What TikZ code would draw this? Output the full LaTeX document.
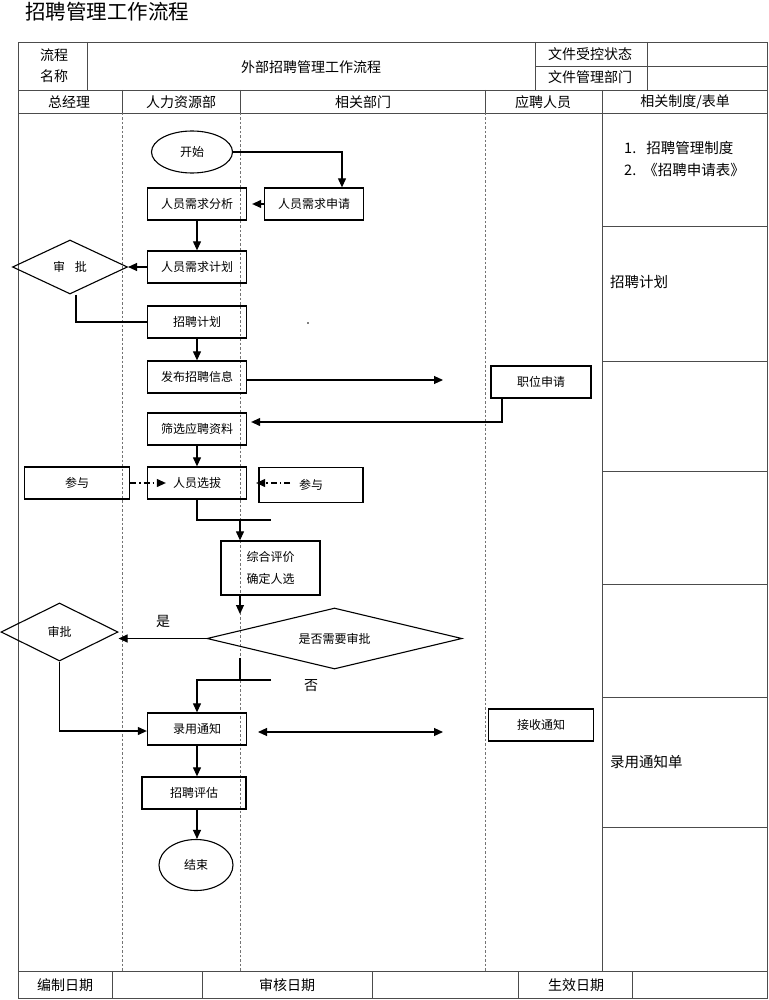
\documentclass[tikz,border=0pt]{standalone}
\usepackage{fontspec}
\newfontfamily\cjk{Noto Sans CJK SC}
\usetikzlibrary{shapes.geometric,arrows.meta}
\begin{document}
\begin{tikzpicture}[x=1pt,y=-1pt,
  font=\cjk\fontsize{12}{14}\selectfont,
  grid/.style={draw=black!70,line width=0.8pt},
  lane/.style={draw=black!55,line width=0.8pt,dash pattern=on 2.5pt off 2pt},
  flow/.style={line width=1.1pt},
  arr/.style={flow,-{Triangle[length=9pt,width=8pt]}},
  arrboth/.style={flow,{Triangle[length=9pt,width=8pt]}-{Triangle[length=9pt,width=8pt]}},
  ddarr/.style={flow,dash pattern=on 6pt off 3pt on 1.5pt off 3pt,-{Triangle[length=9pt,width=8pt]}},
  box/.style={draw,line width=1.3pt,inner sep=0pt,minimum width=99pt,minimum height=32pt},
  oval/.style={draw,ellipse,line width=1.1pt,inner sep=0pt},
  dia/.style={draw,diamond,line width=1.1pt,inner sep=0pt,aspect=2},
  hdr/.style={font=\cjk\fontsize{14}{17}\selectfont,inner sep=0pt},
  side/.style={font=\cjk\fontsize{14.5}{17}\selectfont,inner sep=0pt,anchor=west}
]
\useasboundingbox (0,0) rectangle (768,1000);

% title
\node[anchor=west,inner sep=0pt,font=\cjk\fontsize{20.5}{24}\selectfont] (title) at (25,12) {招聘管理工作流程};

% table frame
\draw[grid] (18,42) rectangle (767,998);
\draw[grid] (18,90) -- (767,90);
\draw[grid] (18,113) -- (767,113);
\draw[grid] (18,971) -- (767,971);
\draw[grid] (87,42) -- (87,90);
\draw[grid] (535,42) -- (535,90);
\draw[grid] (647,42) -- (647,90);
\draw[grid] (535,66) -- (767,66);
\foreach \x in {122,240,485,602} \draw[grid] (\x,90) -- (\x,113);
\foreach \x in {122,240,485} \draw[lane] (\x,113) -- (\x,971);
\draw[grid] (602,113) -- (602,971);
\foreach \y in {226,361,471,584,697,827} \draw[grid] (602,\y) -- (767,\y);
\foreach \x in {112,202,372,518,632} \draw[grid] (\x,971) -- (\x,998);

% header texts
\node[hdr,align=center] (lcname) at (54,66) {流程\\[4pt]名称};
\node[hdr] (pname) at (311,67) {外部招聘管理工作流程};
\node[hdr] (ctrl) at (590,54) {文件受控状态};
\node[hdr] (dept) at (590,77) {文件管理部门};
\node[hdr] (h1) at (69,102) {总经理};
\node[hdr] (h2) at (181,102) {人力资源部};
\node[hdr] (h3) at (363,102) {相关部门};
\node[hdr] (h4) at (543,102) {应聘人员};
\node[hdr] (h5) at (685,102) {相关制度/表单};

% footer texts
\node[hdr] (f1) at (65,985) {编制日期};
\node[hdr] (f2) at (287,985) {审核日期};
\node[hdr] (f3) at (576,985) {生效日期};

% side column texts
\node[side] (s1) at (624,148) {1.\hspace{10pt}招聘管理制度};
\node[side] (s2) at (624,170) {2.\hspace{7pt}《招聘申请表》};
\node[side] (s3) at (610,282) {招聘计划};
\node[side] (s4) at (610,762) {录用通知单};

% flow nodes
\node[oval,minimum width=81pt,minimum height=42pt] (start) at (192,152) {开始};
\node[box] (sq) at (314,204) {人员需求申请};
\node[box] (fx) at (197,204) {人员需求分析};
\node[box] (jh) at (197,267) {人员需求计划};
\node[dia,minimum width=115pt,minimum height=54pt] (sp1) at (70,267) {审\hspace{10pt}批};
\node[box] (zpjh) at (197,322) {招聘计划};
\node[circle,fill,inner sep=0.6pt] (dot) at (308,323) {};
\node[box] (fbxq) at (197,377) {发布招聘信息};
\node[box,minimum width=100pt] (zwsq) at (541,382) {职位申请};
\node[box] (sx) at (197,429) {筛选应聘资料};
\node[box] (xb) at (197,483) {人员选拔};
\node[box,minimum width=105pt] (cy1) at (77,483) {参与};
\node[box,minimum width=104pt,minimum height=35pt] (cy2) at (311,485) {参与};
\node[box,minimum width=99pt,minimum height=54pt,align=center,font=\cjk\fontsize{12}{22}\selectfont] (zh) at (270.5,568) {综合评价\\确定人选};
\node[dia,minimum width=255pt,minimum height=61pt] (sf) at (334.5,638.5) {是否需要审批};
\node[dia,minimum width=117pt,minimum height=58pt] (sp2) at (59.5,632) {审批};
\node[inner sep=0pt,font=\cjk\fontsize{14}{16}\selectfont] (yes) at (163,621) {是};
\node[inner sep=0pt,font=\cjk\fontsize{14}{16}\selectfont] (no) at (311,686) {否};
\node[box] (ly) at (197,729) {录用通知};
\node[box,minimum width=105pt] (jstz) at (541,725) {接收通知};
\node[box,minimum width=104pt] (pg) at (194,793) {招聘评估};
\node[oval,minimum width=74pt,minimum height=51pt] (end) at (196,865) {结束};

% connectors
\draw[arr] (start.east) -| ([xshift=28pt]sq.north);
\draw[arr] (sq.west) -- ([xshift=5pt]fx.east);
\draw[arr] (fx) -- (jh);
\draw[arr] (jh.west) -- (sp1.east);
\draw[flow] ([xshift=6pt]sp1.south) |- (zpjh.west);
\draw[arr] (zpjh) -- (fbxq);
\coordinate (fbend) at (443,380);
\draw[arr] (fbxq.east |- fbend) -- (fbend);
\draw[arr] ([xshift=-39pt]zwsq.south) |- ([xshift=4pt,yshift=7pt]sx.east);
\draw[arr] (sx) -- (xb);
\draw[ddarr] (cy1.east) -- ([xshift=19pt]xb.west);
\coordinate (c2a) at ([xshift=-21pt]cy2.center);
\draw[ddarr] (c2a |- xb.east) -- ([xshift=9pt]xb.east);
\coordinate (m1) at (271,520);
\draw[flow] (xb.south) |- (m1);
\coordinate (zhin) at ([xshift=-30.5pt]zh.north);
\coordinate (zhout) at ([xshift=-30.5pt]zh.south);
\draw[arr] (zhin |- m1) -- (zhin);
\coordinate (sfin) at (240,614);
\draw[arr] (zhout) -- (sfin);
\draw[arr] (sf.west) -- (sf.west -| sp2.east);
\coordinate (n0) at (240,658);
\coordinate (n1) at (271,680);
\draw[flow] (n0) -- (n0 |- n1);
\draw[arr] (n1) -| (ly.north);
\draw[arr] (sp2.south) |- ([yshift=-2pt]ly.west);
\coordinate (la) at (258,732);
\coordinate (lb) at (443,732);
\draw[arrboth] (la) -- (lb);
\draw[arr] (ly.south) -- (ly.south |- pg.north);
\draw[arr] (ly.south |- pg.south) -- (ly.south |- end.north);
\end{tikzpicture}
\end{document}
